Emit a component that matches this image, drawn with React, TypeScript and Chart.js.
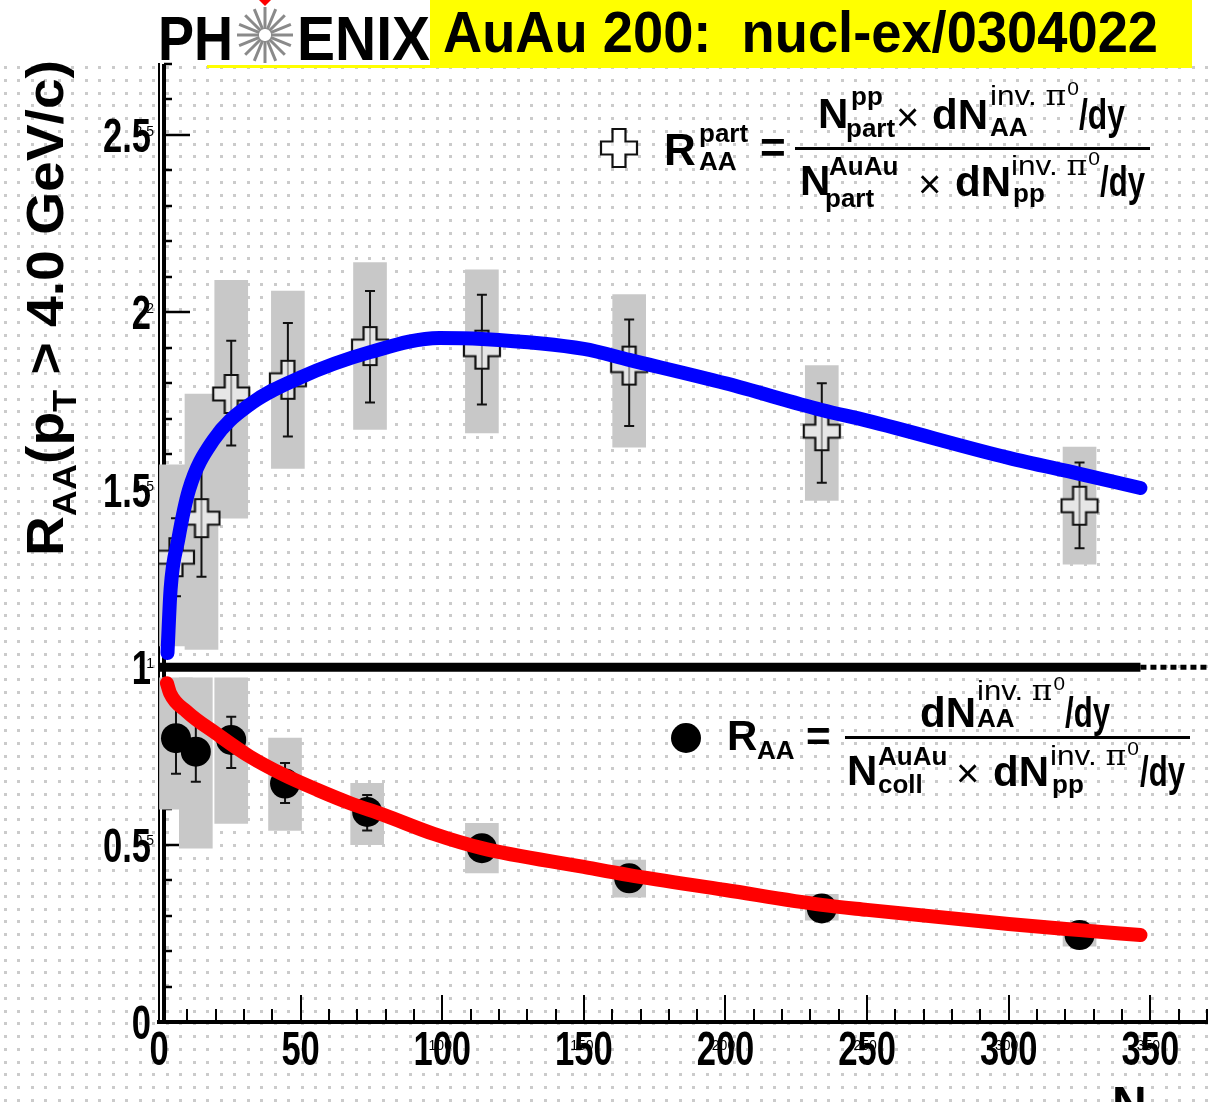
import React, { useEffect, useRef } from "react";
import { Chart, registerables } from "chart.js";
Chart.register(...registerables);

// ---------------- data ----------------
const NPART_CROSS = [6, 15, 25.5, 45.5, 74.5, 114, 166, 234, 325];
const RPART = [1.31, 1.42, 1.77, 1.81, 1.905, 1.895, 1.85, 1.665, 1.455];
const RPART_STAT_LO = [1.2, 1.255, 1.625, 1.65, 1.746, 1.74, 1.68, 1.52, 1.335];
const RPART_STAT_HI = [1.42, 1.59, 1.92, 1.97, 2.06, 2.05, 1.98, 1.8, 1.577];
const RPART_SYS_LO = [1.06, 1.05, 1.42, 1.56, 1.67, 1.66, 1.62, 1.47, 1.29];
const RPART_SYS_HI = [1.57, 1.77, 2.09, 2.06, 2.14, 2.12, 2.05, 1.85, 1.62];

const NPART_CIRC = [6, 13, 25.5, 44.5, 73.5, 114, 166, 234, 325];
const RAA = [0.8, 0.762, 0.795, 0.672, 0.592, 0.49, 0.405, 0.32, 0.245];
const RAA_STAT_LO = [0.7, 0.677, 0.716, 0.617, 0.54, 0.46, 0.385, 0.3, 0.23];
const RAA_STAT_HI = [0.9, 0.85, 0.86, 0.73, 0.64, 0.52, 0.425, 0.34, 0.26];
const RAA_SYS_LO = [0.6, 0.49, 0.56, 0.54, 0.5, 0.42, 0.352, 0.287, 0.214];
const RAA_SYS_HI = [0.97, 0.97, 0.97, 0.8, 0.673, 0.56, 0.456, 0.36, 0.28];

const BLUE_N = [3.0, 4.1, 6.8, 10.6, 19.2, 32, 50, 74.5, 99, 114, 150, 166, 200, 234, 250, 300, 325, 346.5];
const BLUE_V = [1.04, 1.22, 1.36, 1.5, 1.64, 1.74, 1.817, 1.888, 1.928, 1.925, 1.897, 1.866, 1.8, 1.725, 1.695, 1.59, 1.545, 1.505];

const RED_N = [2.8, 3.9, 9.8, 20.4, 32.1, 44.2, 56, 67.7, 79.5, 97, 114, 150, 166, 200, 234, 250, 300, 325, 346.5];
const RED_V = [0.955, 0.927, 0.875, 0.812, 0.748, 0.696, 0.654, 0.616, 0.583, 0.53, 0.49, 0.437, 0.414, 0.372, 0.33, 0.316, 0.276, 0.259, 0.245];

const UNITY_SOLID_N = [0, 346.5];
const UNITY_DASH_N = [346.5, 370];
const UNITY_V = 1;

const X_MIN = 0, X_MAX = 370, X_MINOR = 10;
const Y_MIN = 0, Y_MAX = 2.7, Y_MINOR = 0.1;
const X_TICK_VALUES = [0, 50, 100, 150, 200, 250, 300, 350];
const X_TICK_LABELS = ["0", "50", "100", "150", "200", "250", "300", "350"];
const Y_TICK_VALUES = [0, 0.5, 1, 1.5, 2, 2.5];
const Y_TICK_LABELS = ["0", "0.5", "1", "1.5", "2", "2.5"];

const HEADER_TEXT = "AuAu 200:  nucl-ex/0304022";

// ---------------- styles ----------------
const SANS = "'Liberation Sans', Arial, Helvetica, sans-serif";

function makeCrossImage(): HTMLCanvasElement {
  const c = document.createElement("canvas");
  const W = 40, H = 42;
  c.width = W; c.height = H;
  const ctx = c.getContext("2d")!;
  const cx = W / 2, cy = H / 2, a = 6.5, hw = 18, hh = 19;
  const pts = [[-a, -hh], [a, -hh], [a, -a], [hw, -a], [hw, a], [a, a], [a, hh], [-a, hh], [-a, a], [-hw, a], [-hw, -a], [-a, -a]];
  ctx.beginPath();
  pts.forEach(([x, y], i) => (i ? ctx.lineTo(cx + x, cy + y) : ctx.moveTo(cx + x, cy + y)));
  ctx.closePath();
  ctx.fillStyle = "rgba(255,255,255,0.55)";
  ctx.fill();
  ctx.strokeStyle = "#111";
  ctx.lineWidth = 2.2;
  ctx.stroke();
  return c;
}

function t(ctx: CanvasRenderingContext2D, s: string, x: number, y: number, size: number, bold = true, family = SANS) {
  ctx.font = `${bold ? "bold " : ""}${size}px ${family}`;
  ctx.textAlign = "left";
  ctx.textBaseline = "alphabetic";
  ctx.fillText(s, x, y);
}

function fitText(ctx: CanvasRenderingContext2D, s: string, x: number, y: number, width: number, font: string) {
  ctx.font = font;
  ctx.textAlign = "left";
  ctx.textBaseline = "alphabetic";
  const w = ctx.measureText(s).width;
  ctx.save();
  ctx.translate(x, y);
  ctx.scale(width / w, 1);
  ctx.fillText(s, 0, 0);
  ctx.restore();
}

// narrow (horizontally squeezed) bold label
function narrow(ctx: CanvasRenderingContext2D, s: string, x: number, y: number, align: "left" | "right" | "center") {
  ctx.font = `bold 48px ${SANS}`;
  ctx.textBaseline = "alphabetic";
  ctx.textAlign = "left";
  const k = 0.72;
  const w = ctx.measureText(s).width * k;
  const x0 = align === "left" ? x : align === "right" ? x - w : x - w / 2;
  ctx.save();
  ctx.translate(x0, y);
  ctx.scale(k, 1);
  ctx.fillText(s, 0, 0);
  ctx.restore();
}

function invPi(ctx: CanvasRenderingContext2D, x: number, y: number, width = 89) {
  const f1 = `27px ${SANS}`, f2 = `27px 'DejaVu Serif', serif`, f3 = `18px ${SANS}`;
  ctx.font = f1; const w1 = ctx.measureText("inv. ").width;
  ctx.font = f2; const w2 = ctx.measureText("\u03c0").width;
  ctx.font = f3; const w3 = ctx.measureText("0").width;
  const tot = w1 + w2 + w3 + 1;
  ctx.save();
  ctx.translate(x, y);
  ctx.scale(width / tot, 1);
  ctx.textAlign = "left"; ctx.textBaseline = "alphabetic";
  ctx.font = f1; ctx.fillText("inv. ", 0, 0);
  ctx.font = f2; ctx.fillText("\u03c0", w1, 0);
  ctx.font = f3; ctx.fillText("0", w1 + w2 + 1, -10);
  ctx.restore();
}

const decorPlugin = {
  id: "decor",
  beforeDraw(chart: any) {
    const ctx: CanvasRenderingContext2D = chart.ctx;
    ctx.save();
    ctx.fillStyle = "#fff";
    ctx.fillRect(0, 0, chart.width, chart.height);
    ctx.fillStyle = "#cbcbcb";
    for (let y = 2.3 + 12.75 * 5; y < chart.height; y += 12.75) {
      for (let x = 3.8; x < chart.width; x += 13.5) {
        ctx.fillRect(Math.round(x), Math.round(y), 3, 3);
      }
    }
    ctx.restore();
  },
  beforeDatasetsDraw(chart: any) {
    const ctx: CanvasRenderingContext2D = chart.ctx;
    const xs = chart.scales.x, ys = chart.scales.y;
    const { left, top, bottom } = chart.chartArea;
    ctx.save();
    ctx.strokeStyle = "#000";
    ctx.lineWidth = 4;
    ctx.beginPath();
    ctx.moveTo(left + 5, top);
    ctx.lineTo(left + 5, bottom);
    ctx.stroke();
    // y ticks (inside)
    ctx.lineWidth = 2.5;
    for (let i = 0; Y_MIN + i * Y_MINOR <= Y_MAX + 1e-9; i++) {
      const v = Y_MIN + i * Y_MINOR;
      const major = i % 5 === 0;
      const py = Math.round(ys.getPixelForValue(v));
      ctx.beginPath();
      ctx.moveTo(left + 5, py);
      ctx.lineTo(left + (major ? 31 : 13), py);
      ctx.stroke();
    }
    // x ticks (inside)
    ctx.lineWidth = 2;
    for (let i = 0; X_MIN + i * X_MINOR <= X_MAX + 1e-9; i++) {
      const v = X_MIN + i * X_MINOR;
      const major = i % 5 === 0;
      const px = Math.round(xs.getPixelForValue(v));
      ctx.beginPath();
      ctx.moveTo(px, bottom);
      ctx.lineTo(px, bottom - (major ? 27 : 13));
      ctx.stroke();
    }
    ctx.restore();
  },
  afterDatasetDraw(chart: any, args: any) {
    if (args.index !== 0) return;
    const ctx: CanvasRenderingContext2D = chart.ctx;
    const xs = chart.scales.x, ys = chart.scales.y;
    ctx.save();
    ctx.strokeStyle = "#111";
    ctx.lineWidth = 2;
    const bars = (ns: number[], lo: number[], hi: number[]) => {
      ns.forEach((n, i) => {
        const px = xs.getPixelForValue(n);
        const y1 = ys.getPixelForValue(lo[i]);
        const y2 = ys.getPixelForValue(hi[i]);
        ctx.beginPath();
        ctx.moveTo(px, y1); ctx.lineTo(px, y2);
        ctx.moveTo(px - 5, y1); ctx.lineTo(px + 5, y1);
        ctx.moveTo(px - 5, y2); ctx.lineTo(px + 5, y2);
        ctx.stroke();
      });
    };
    bars(NPART_CROSS, RPART_STAT_LO, RPART_STAT_HI);
    bars(NPART_CIRC, RAA_STAT_LO, RAA_STAT_HI);
    ctx.restore();
  },
  afterDraw(chart: any) {
    const ctx: CanvasRenderingContext2D = chart.ctx;
    const xs = chart.scales.x, ys = chart.scales.y;
    const bottom = chart.chartArea.bottom;
    ctx.save();
    ctx.fillStyle = "#000";

    // tick labels (narrow bold), positioned by the scales
    Y_TICK_VALUES.forEach((v, i) => narrow(ctx, Y_TICK_LABELS[i], 151, ys.getPixelForValue(v) + 17, "right"));
    X_TICK_VALUES.forEach((v, i) => narrow(ctx, X_TICK_LABELS[i], xs.getPixelForValue(v), bottom + 43, "center"));

    // small overprinted tick labels
    ctx.font = `14px ${SANS}`;
    ctx.textBaseline = "middle";
    ctx.textAlign = "right";
    Y_TICK_VALUES.forEach((v, i) => { if (i > 0) ctx.fillText(Y_TICK_LABELS[i], 154, ys.getPixelForValue(v) - 3); });
    ctx.textAlign = "center";
    X_TICK_VALUES.forEach((v, i) => { if (i > 1) ctx.fillText(X_TICK_LABELS[i], xs.getPixelForValue(v) - 2, bottom + 24); });

    // header
    ctx.fillStyle = "#ffff00";
    ctx.fillRect(430, 0, 762, 68);
    ctx.fillRect(207, 65, 223, 3);
    ctx.fillStyle = "#000";
    fitText(ctx, HEADER_TEXT, 443, 52, 715, `bold 57px ${SANS}`);
    fitText(ctx, "PH", 158, 60, 75, `bold 63px ${SANS}`);
    fitText(ctx, "ENIX", 297, 60, 133, `bold 63px ${SANS}`);
    ctx.strokeStyle = "#8a8a8a";
    ctx.lineWidth = 3;
    const sx = 265, sy = 35;
    for (let k = 0; k < 16; k++) {
      const ang = (k * Math.PI * 2) / 16;
      ctx.beginPath();
      ctx.moveTo(sx + Math.cos(ang) * 6, sy + Math.sin(ang) * 6);
      ctx.lineTo(sx + Math.cos(ang) * 28, sy + Math.sin(ang) * 28);
      ctx.stroke();
    }
    ctx.fillStyle = "#ff0000";
    ctx.beginPath();
    ctx.moveTo(259, 0); ctx.lineTo(271, 0); ctx.lineTo(265, 6); ctx.closePath();
    ctx.fill();

    // y title
    ctx.fillStyle = "#000";
    ctx.save();
    ctx.translate(63, 556);
    ctx.rotate(-Math.PI / 2);
    const pieces: [string, number, number][] = [["R", 52, 0], ["AA", 34, 13], ["(p", 52, 0], ["T", 34, 13], [" > 4.0 GeV/c)", 52, 0]];
    let total = 0;
    pieces.forEach(([s, sz]) => { ctx.font = `bold ${sz}px ${SANS}`; total += ctx.measureText(s).width; });
    ctx.scale(496 / total, 1);
    let xx = 0;
    pieces.forEach(([s, sz, dy]) => {
      ctx.font = `bold ${sz}px ${SANS}`;
      ctx.textAlign = "left"; ctx.textBaseline = "alphabetic";
      ctx.fillText(s, xx, dy);
      xx += ctx.measureText(s).width;
    });
    ctx.restore();

    // x title (cut by the page bottom)
    t(ctx, "N", 1112, 1120, 48);

    // legend 1: R_AA^part
    ctx.drawImage(crossImg, 599, 127);
    t(ctx, "R", 664, 165, 44);
    t(ctx, "part", 699, 142, 26);
    t(ctx, "AA", 699, 170, 26);
    t(ctx, "=", 760, 163, 44);
    ctx.fillRect(795, 147, 355, 3);
    t(ctx, "N", 818, 128, 42);
    t(ctx, "pp", 851, 105, 26);
    t(ctx, "part", 846, 137, 26);
    t(ctx, "\u00d7", 896, 131, 40, false);
    t(ctx, "dN", 932, 129, 42);
    invPi(ctx, 990, 105);
    t(ctx, "AA", 990, 136, 26);
    fitText(ctx, "/dy", 1079, 129, 46, `bold 42px ${SANS}`);
    t(ctx, "N", 800, 195, 42);
    t(ctx, "AuAu", 829, 175, 26);
    t(ctx, "part", 825, 207, 26);
    t(ctx, "\u00d7", 918, 198, 40, false);
    t(ctx, "dN", 955, 196, 42);
    invPi(ctx, 1011, 175);
    t(ctx, "pp", 1013, 202, 26);
    fitText(ctx, "/dy", 1100, 196, 45, `bold 42px ${SANS}`);

    // legend 2: R_AA
    ctx.beginPath();
    ctx.arc(686, 738, 15, 0, Math.PI * 2);
    ctx.fill();
    t(ctx, "R", 727, 750, 42);
    t(ctx, "AA", 757, 759, 26);
    t(ctx, "=", 806, 751, 42);
    ctx.fillRect(845, 736, 345, 3);
    t(ctx, "dN", 920, 727, 42);
    invPi(ctx, 977, 700, 88);
    t(ctx, "AA", 977, 727, 26);
    fitText(ctx, "/dy", 1065, 727, 45, `bold 42px ${SANS}`);
    t(ctx, "N", 847, 785, 42);
    t(ctx, "AuAu", 878, 765, 26);
    t(ctx, "coll", 878, 793, 26);
    t(ctx, "\u00d7", 956, 787, 40, false);
    t(ctx, "dN", 993, 786, 42);
    invPi(ctx, 1050, 765);
    t(ctx, "pp", 1052, 793, 26);
    fitText(ctx, "/dy", 1140, 786, 45, `bold 42px ${SANS}`);
    ctx.restore();
  },
};

let crossImg: HTMLCanvasElement;

export default function App() {
  const ref = useRef<HTMLCanvasElement | null>(null);
  useEffect(() => {
    if (!ref.current) return;
    crossImg = makeCrossImage();
    const boxData = [
      ...NPART_CROSS.map((n, i) => ({ x: n, y: [RPART_SYS_LO[i], RPART_SYS_HI[i]] })),
      ...NPART_CIRC.map((n, i) => ({ x: n, y: [RAA_SYS_LO[i], RAA_SYS_HI[i]] })),
    ];
    const chart = new Chart(ref.current, {
      type: "scatter",
      data: {
        datasets: [
          {
            type: "bar",
            label: "sys",
            data: boxData as any,
            backgroundColor: "#c8c8c8",
            borderWidth: 0,
            barThickness: 33,
            grouped: false,
            order: 5,
          } as any,
          {
            type: "line",
            label: "unity",
            data: UNITY_SOLID_N.map((n) => ({ x: n, y: UNITY_V })),
            borderColor: "#000",
            borderWidth: 9,
            pointRadius: 0,
            order: 4,
          },
          {
            type: "line",
            label: "unity dashed",
            data: UNITY_DASH_N.map((n) => ({ x: n, y: UNITY_V })),
            borderColor: "#000",
            borderWidth: 5,
            borderDash: [6, 4],
            pointRadius: 0,
            order: 4,
          },
          {
            type: "scatter",
            label: "RAA part",
            data: NPART_CROSS.map((n, i) => ({ x: n, y: RPART[i] })),
            pointStyle: makeCrossImage() as any,
            order: 3,
          },
          {
            type: "scatter",
            label: "RAA",
            data: NPART_CIRC.map((n, i) => ({ x: n, y: RAA[i] })),
            pointStyle: "circle",
            pointRadius: 15,
            backgroundColor: "#000",
            borderWidth: 0,
            order: 3,
          },
          {
            type: "line",
            label: "blue fit",
            data: BLUE_N.map((n, i) => ({ x: n, y: BLUE_V[i] })),
            borderColor: "#0000ff",
            borderWidth: 14,
            borderCapStyle: "round",
            pointRadius: 0,
            cubicInterpolationMode: "monotone",
            order: 1,
          },
          {
            type: "line",
            label: "red fit",
            data: RED_N.map((n, i) => ({ x: n, y: RED_V[i] })),
            borderColor: "#ff0000",
            borderWidth: 14,
            borderCapStyle: "round",
            pointRadius: 0,
            cubicInterpolationMode: "monotone",
            order: 1,
          },
        ],
      },
      options: {
        animation: false,
        responsive: false,
        maintainAspectRatio: false,
        events: [],
        layout: { autoPadding: false, padding: { left: 0, top: 64, right: 3, bottom: 0 } },
        plugins: { legend: { display: false }, tooltip: { enabled: false } },
        scales: {
          x: {
            type: "linear",
            min: X_MIN,
            max: X_MAX,
            offset: false,
            afterFit: (s: any) => { s.height = 80; s.paddingLeft = 0; s.paddingRight = 0; },
            grid: { display: false },
            border: { display: true, color: "#000", width: 4 },
            ticks: { display: false },
          },
          y: {
            type: "linear",
            min: Y_MIN,
            max: Y_MAX,
            afterFit: (s: any) => { s.width = 159; s.paddingTop = 0; s.paddingBottom = 0; },
            grid: { display: false },
            border: { display: true, color: "#000", width: 2 },
            ticks: { display: false },
          },
        },
      } as any,
      plugins: [decorPlugin],
    });
    return () => chart.destroy();
  }, []);
  return (
    <div style={{ position: "absolute", left: 0, top: 0, width: 1210, height: 1102, background: "#fff" }}>
      <canvas ref={ref} width={1210} height={1102} style={{ display: "block", width: 1210, height: 1102 }} />
    </div>
  );
}
